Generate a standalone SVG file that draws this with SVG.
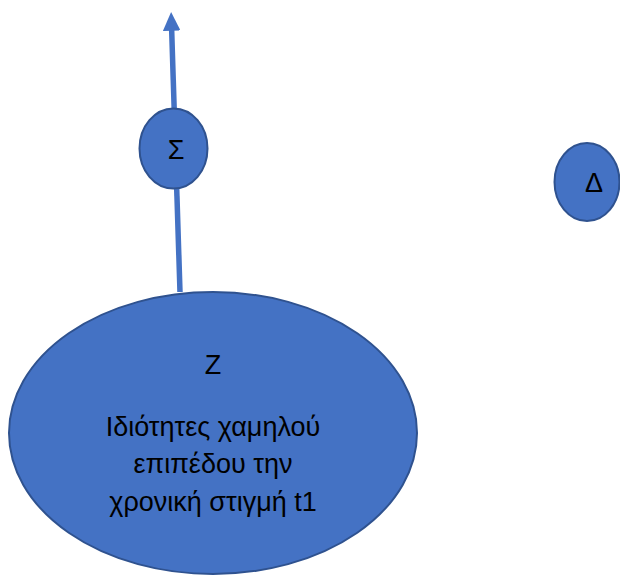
<svg xmlns="http://www.w3.org/2000/svg" width="620" height="576" viewBox="0 0 620 576">
<style>
.node{fill:#4472C4;stroke:#2F528F;stroke-width:2}
.lbl{font-family:"Liberation Sans","Noto Sans",sans-serif;font-size:27px;fill:#000;text-anchor:middle}
.edge{stroke:#4472C4;stroke-width:5.5;fill:none}
</style>
<defs>
<marker id="ah" markerWidth="3.4" markerHeight="3.2" refX="0.5" refY="1.6" orient="auto" markerUnits="strokeWidth">
<path d="M0,0 L3.4,1.6 L0,3.2 Z" fill="#4472C4"/>
</marker>
</defs>
<g id="connectors">
<path class="edge" d="M180,292 L171.6,28" marker-end="url(#ah)"/>
</g>
<g id="node-Z">
<ellipse class="node" cx="213" cy="433" rx="204" ry="141"/>
<text class="lbl" x="213" y="374">Z</text>
<text class="lbl" x="213" y="436">Ιδιότητες χαμηλού</text>
<text class="lbl" x="213" y="473">επιπέδου την</text>
<text class="lbl" x="213" y="511">χρονική στιγμή t1</text>
</g>
<g id="node-S">
<ellipse class="node" cx="173.5" cy="148.5" rx="34" ry="40"/>
<text class="lbl" x="176" y="159">Σ</text>
</g>
<g id="node-D">
<ellipse class="node" cx="587" cy="182" rx="32.5" ry="39"/>
<text class="lbl" x="594" y="192">Δ</text>
</g>
</svg>
